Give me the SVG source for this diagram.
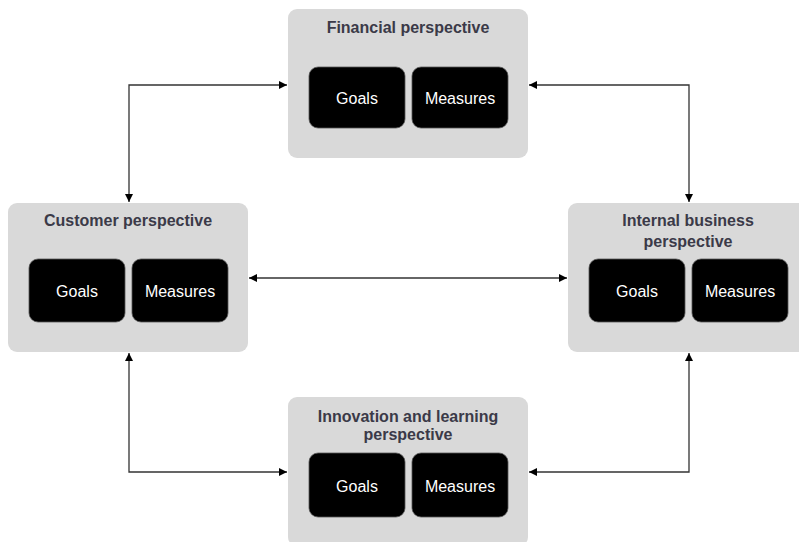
<svg xmlns="http://www.w3.org/2000/svg" width="799" height="542" viewBox="0 0 799 542">
<defs>
<style>
.panel{fill:#d9d9d9}
.cell{fill:#000;stroke:#555;stroke-width:0.8}
.title{font-family:"Liberation Sans",Arial,sans-serif;font-weight:bold;font-size:16px;fill:#3b3a48;text-anchor:middle}
.lbl{font-family:"Liberation Sans",Arial,sans-serif;font-size:16px;fill:#fff;text-anchor:middle}
.conn{fill:none;stroke:#333;stroke-width:1.3}
</style>
<marker id="ah" viewBox="0 0 10 10" refX="10" refY="5" markerWidth="8" markerHeight="8" markerUnits="userSpaceOnUse" orient="auto-start-reverse">
<path d="M0,0 L10,5 L0,10 Z" fill="#000"/>
</marker>
</defs>
<rect width="799" height="542" fill="#fff"/>
<g id="connectors">
<path class="conn" d="M129,202 V85 H287" marker-start="url(#ah)" marker-end="url(#ah)"/>
<path class="conn" d="M529,85 H689 V202" marker-start="url(#ah)" marker-end="url(#ah)"/>
<path class="conn" d="M249,278 H567" marker-start="url(#ah)" marker-end="url(#ah)"/>
<path class="conn" d="M129,353 V472 H287" marker-start="url(#ah)" marker-end="url(#ah)"/>
<path class="conn" d="M689,353 V472 H529" marker-start="url(#ah)" marker-end="url(#ah)"/>
</g>
<g id="financial">
<rect class="panel" x="288" y="9" width="240" height="149" rx="9"/>
<text class="title" x="408" y="33">Financial perspective</text>
<rect class="cell" x="309" y="67" width="96" height="61" rx="9"/>
<text class="lbl" x="357" y="104">Goals</text>
<rect class="cell" x="412" y="67" width="96" height="61" rx="9"/>
<text class="lbl" x="460" y="104">Measures</text>
</g>
<g id="customer">
<rect class="panel" x="8" y="203" width="240" height="149" rx="9"/>
<text class="title" x="128" y="226">Customer perspective</text>
<rect class="cell" x="29" y="259" width="96" height="63" rx="9"/>
<text class="lbl" x="77" y="297">Goals</text>
<rect class="cell" x="132" y="259" width="96" height="63" rx="9"/>
<text class="lbl" x="180" y="297">Measures</text>
</g>
<g id="internal">
<rect class="panel" x="568" y="203" width="240" height="149" rx="9"/>
<text class="title" x="688" y="226">Internal business</text>
<text class="title" x="688" y="247">perspective</text>
<rect class="cell" x="589" y="259" width="96" height="63" rx="9"/>
<text class="lbl" x="637" y="297">Goals</text>
<rect class="cell" x="692" y="259" width="96" height="63" rx="9"/>
<text class="lbl" x="740" y="297">Measures</text>
</g>
<g id="innovation">
<rect class="panel" x="288" y="397" width="240" height="149" rx="9"/>
<text class="title" x="408" y="422">Innovation and learning</text>
<text class="title" x="408" y="440">perspective</text>
<rect class="cell" x="309" y="453" width="96" height="64" rx="9"/>
<text class="lbl" x="357" y="492">Goals</text>
<rect class="cell" x="412" y="453" width="96" height="64" rx="9"/>
<text class="lbl" x="460" y="492">Measures</text>
</g>
</svg>
